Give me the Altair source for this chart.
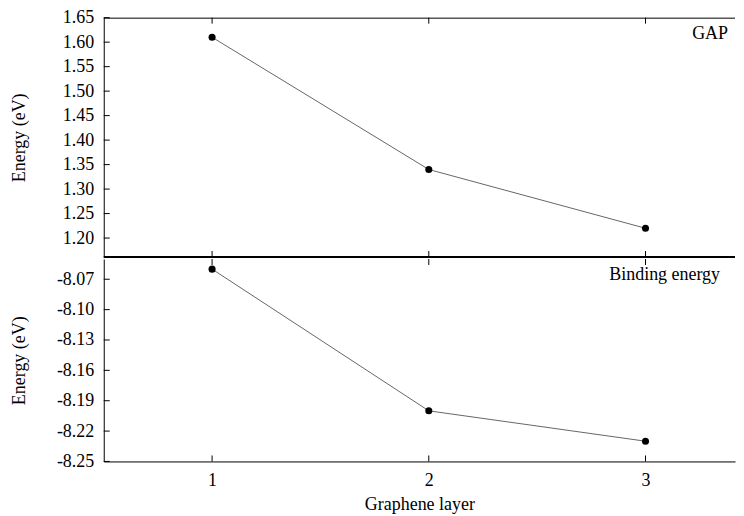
import altair as alt
import pandas as pd

# ---- data ----
layers = [1, 2, 3]
gap = [1.61, 1.34, 1.22]
binding = [-8.06, -8.20, -8.23]

x_ticks = [1, 2, 3]
gap_ticks = [1.20, 1.25, 1.30, 1.35, 1.40, 1.45, 1.50, 1.55, 1.60, 1.65]
bind_ticks = [-8.25, -8.22, -8.19, -8.16, -8.13, -8.10, -8.07]

x_domain = [0.5, 3.413]
gap_domain = [1.1613, 1.65]
bind_domain = [-8.25, -8.05]

FONT = "Liberation Serif"
W = 633
H1 = 240
H2 = 203

LABEL_EXPR = "(datum.value < 0 ? '-' : '') + format(abs(datum.value), '.2f')"


def panel(values, yticks, ydomain, H, label, label_x, label_y, bottom):
    df = pd.DataFrame({"x": layers, "y": values})
    xs = alt.Scale(domain=x_domain, nice=False, zero=False)
    ys = alt.Scale(domain=ydomain, nice=False, zero=False)
    if bottom:
        xaxis = alt.Axis(values=x_ticks, format="d", ticks=False, tickSize=0,
                         grid=False, domain=True, domainColor="black",
                         labelPadding=10, titlePadding=6)
        xtitle = "Graphene layer"
    else:
        xaxis = None
        xtitle = None
    yaxis = alt.Axis(values=yticks, labelExpr=LABEL_EXPR, ticks=False, tickSize=0,
                     grid=False, domain=True, domainColor="black",
                     labelPadding=10, titleX=-84, titleY=H / 2,
                     titleAngle=-90, titleAlign="center", titleBaseline="middle")

    def X(field="x"):
        return alt.X(f"{field}:Q", scale=xs, axis=xaxis, title=xtitle)

    def Y(field="y"):
        return alt.Y(f"{field}:Q", scale=ys, axis=yaxis, title="Energy (eV)")

    line = alt.Chart(df).mark_line(color="#666666", strokeWidth=1).encode(x=X(), y=Y())
    pts = alt.Chart(df).mark_circle(color="black", size=50, opacity=1).encode(x=X(), y=Y())

    ytick_df = pd.DataFrame({"y": yticks})
    yt = alt.Chart(ytick_df).mark_rule(color="black", strokeWidth=1).encode(
        y=Y(), x=alt.value(0), x2=alt.value(6))

    xtick_df = pd.DataFrame({"x": x_ticks})
    xt_top = alt.Chart(xtick_df).mark_rule(color="black", strokeWidth=1).encode(
        x=X(), y=alt.value(0), y2=alt.value(6))
    xt_bot = alt.Chart(xtick_df).mark_rule(color="black", strokeWidth=1).encode(
        x=X(), y=alt.value(H), y2=alt.value(H - 6))

    frame_df = pd.DataFrame({"k": [0]})
    layers_list = [line, pts, yt, xt_top, xt_bot]
    if not bottom:
        top_border = alt.Chart(frame_df).mark_rule(color="black", strokeWidth=1).encode(
            y=alt.value(0.5), x=alt.value(0), x2=alt.value(W))
        bot_border = alt.Chart(frame_df).mark_rule(color="black", strokeWidth=2).encode(
            y=alt.value(H), x=alt.value(0), x2=alt.value(W))
        layers_list += [top_border, bot_border]

    txt_df = pd.DataFrame({"t": [label]})
    txt = alt.Chart(txt_df).mark_text(align="right", baseline="middle", font=FONT,
                                       fontSize=18, color="black").encode(
        text="t:N", x=alt.value(label_x), y=alt.value(label_y))
    layers_list.append(txt)

    return alt.layer(*layers_list).properties(width=W, height=H)


top = panel(gap, gap_ticks, gap_domain, H1, "GAP", 626, 16, False)
bot = panel(binding, bind_ticks, bind_domain, H2, "Binding energy", 618, 16, True)

chart = alt.vconcat(top, bot, spacing=0).properties(
    padding={"left": 2, "top": 0, "right": 0, "bottom": 0},
    background="white",
).configure_view(stroke=None).configure_axis(
    labelFont=FONT, titleFont=FONT, labelFontSize=18, titleFontSize=18,
    labelColor="black", titleColor="black", titleFontWeight="normal"
)

chart.save("out.html", embed_options={"renderer": "svg", "actions": False})
